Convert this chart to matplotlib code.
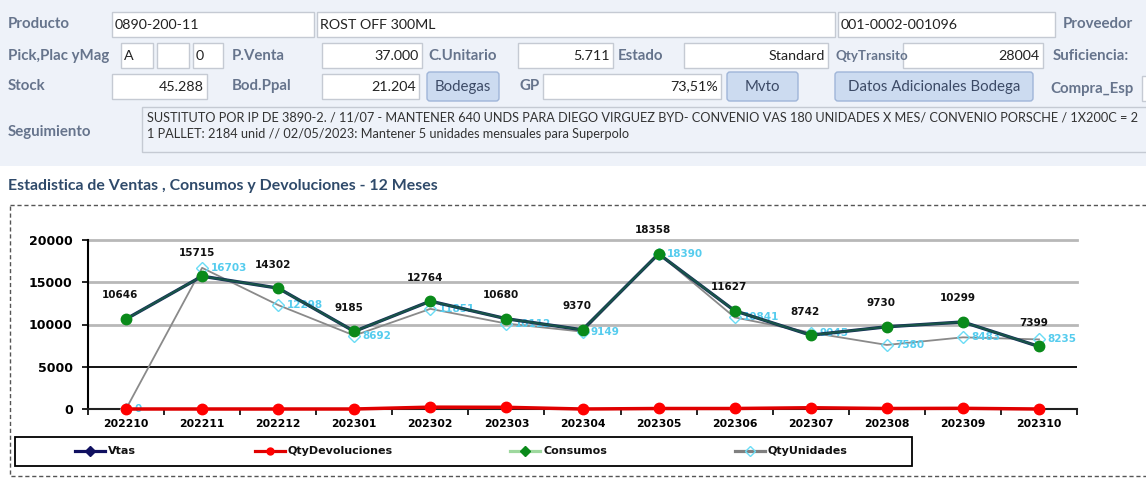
import numpy as np
import matplotlib
matplotlib.use("Agg")
import matplotlib.pyplot as plt
from matplotlib.patches import Rectangle, FancyBboxPatch

# data
meses = ["202210", "202211", "202212", "202301", "202302", "202303", "202304",
         "202305", "202306", "202307", "202308", "202309", "202310"]
vtas = [10646, 15715, 14302, 9185, 12764, 10680, 9370, 18358, 11627, 8742, 9730, 10299, 7399]
consumos = [10646, 15715, 14302, 9185, 12764, 10680, 9370, 18358, 11627, 8742, 9730, 10299, 7399]
devoluciones = [0, 0, 0, 0, 220, 200, 0, 60, 60, 150, 60, 80, 0]
unidades = [0, 16703, 12298, 8692, 11851, 10112, 9149, 18390, 10841, 9045, 7580, 8483, 8235]
yticks = [0, 5000, 10000, 15000, 20000]

W, H = 1146, 479
fig = plt.figure(figsize=(W / 100, H / 100), dpi=100)
fig.patch.set_facecolor("white")

# overlay in pixel coords for the form part
bg = fig.add_axes([0, 0, 1, 1], zorder=0)
bg.set_xlim(0, W)
bg.set_ylim(H, 0)
bg.axis("off")

FORM = "#EEF2F9"
LAB = "#66748C"
bg.add_patch(Rectangle((0, 0), W, 166, facecolor=FORM, edgecolor="none"))

ff = "Lato"
def label(x, y, s, size=10.8):
    bg.text(x, y, s, fontsize=size, color=LAB, family=ff, fontweight="bold",
            va="center", ha="left")

def box(x0, x1, y0, y1, s="", align="left"):
    bg.add_patch(Rectangle((x0, y0), x1 - x0, y1 - y0, facecolor="white",
                           edgecolor="#C5CAD3", lw=1))
    if s:
        if align == "left":
            bg.text(x0 + 3, (y0 + y1) / 2, s, fontsize=10.3, color="#222222",
                    family=ff, va="center", ha="left")
        else:
            bg.text(x1 - 3, (y0 + y1) / 2, s, fontsize=10.3, color="#222222",
                    family=ff, va="center", ha="right")

def button(x0, x1, y0, y1, s):
    bg.add_patch(FancyBboxPatch((x0 + 2, y0 + 2), x1 - x0 - 4, y1 - y0 - 4,
                                boxstyle="round,pad=2,rounding_size=3",
                                facecolor="#CCDBF0", edgecolor="#9FB5D8", lw=1))
    bg.text((x0 + x1) / 2, (y0 + y1) / 2, s, fontsize=10.8, color="#3C4A66",
            family=ff, va="center", ha="center")

# row 1
label(8, 24, "Producto")
box(112, 314, 12, 37, "0890-200-11")
box(317, 835, 12, 37, "ROST OFF 300ML")
box(838, 1055, 12, 37, "001-0002-001096")
label(1063, 24, "Proveedor")
# row 2
label(8, 56, "Pick,Plac yMag")
box(121, 153, 43, 68, "A")
box(157, 189, 43, 68)
box(193, 223, 43, 68, "0")
label(232, 56, "P.Venta")
box(322, 422, 43, 68, "37.000", "right")
label(428, 56, "C.Unitario")
box(518, 613, 43, 68, "5.711", "right")
label(618, 56, "Estado")
box(684, 828, 43, 68, "Standard", "right")
label(835, 56, "QtyTransito", size=9.6)
box(903, 1043, 43, 68, "28004", "right")
label(1053, 56, "Suficiencia:")
# row 3
label(8, 86, "Stock")
box(112, 207, 74, 99, "45.288", "right")
label(232, 86, "Bod.Ppal")
box(322, 419, 74, 99, "21.204", "right")
button(427, 499, 72, 101, "Bodegas")
label(520, 86, "GP")
box(543, 721, 74, 99, "73,51%", "right")
button(727, 798, 72, 101, "Mvto")
button(835, 1033, 72, 101, "Datos Adicionales Bodega")
label(1050, 89, "Compra_Esp")
box(1142, 1150, 76, 101)
# seguimiento
label(8, 132, "Seguimiento")
bg.add_patch(Rectangle((142, 107), 1010, 45, facecolor=FORM, edgecolor="#C5CAD3", lw=1))
bg.text(147, 117, "SUSTITUTO POR IP DE 3890-2. / 11/07 - MANTENER 640 UNDS PARA DIEGO VIRGUEZ BYD- "
        "CONVENIO VAS 180 UNIDADES X MES/ CONVENIO PORSCHE / 1X200C = 2",
        fontsize=9.2, color="#333333", family=ff, va="center", clip_on=True)
bg.text(147, 134, "1 PALLET: 2184 unid // 02/05/2023: Mantener 5 unidades mensuales para Superpolo",
        fontsize=9.2, color="#333333", family=ff, va="center", clip_on=True)

# chart title and dashed frame
bg.text(8, 186, "Estadistica de Ventas , Consumos y Devoluciones - 12 Meses",
        fontsize=11.4, color="#2F4A6A", family=ff, fontweight="bold", va="center")
bg.add_patch(Rectangle((10, 205), 1150, 271, facecolor="none", edgecolor="#555555",
                       lw=1, ls=(0, (3, 2))))

# chart axes
cf = ["Liberation Sans Narrow", "DejaVu Sans"]
x0, x1, ytop, ybot = 88, 1077, 240, 409
ax = fig.add_axes([x0 / W, 1 - ybot / H, (x1 - x0) / W, (ybot - ytop) / H], zorder=1)
ax.set_facecolor("none")
x = np.arange(len(meses))
ax.set_xlim(-0.5, len(meses) - 0.5)
ax.set_ylim(0, 20000)

for v in [10000, 15000, 20000]:
    ax.axhline(v, color="#B8B8B8", lw=2, zorder=1, clip_on=False)
ax.axhline(5000, color="black", lw=1.3, zorder=1)

ax.plot(x, unidades, color="#8A8A8A", lw=1.3, marker="D", ms=6, mfc="none",
        mec="#6ADCF5", mew=1, zorder=3)
ax.plot(x, vtas, color="#14285A", lw=2.4, marker="D", ms=5, mfc="#101060",
        mec="#101060", zorder=4)
ax.plot(x, consumos, color="#1E7A3A", lw=1.6, alpha=0.55, zorder=5)
ax.plot(x, consumos, ls="none", marker="o", ms=7.5, mfc="#0A8A1A", mec="#0A8A1A",
        zorder=6)
ax.plot(x, devoluciones, color="#E00000", lw=2.5, marker="o", ms=7.5, mfc="#FF0000",
        mec="#FF0000", zorder=7, clip_on=False)

for i in range(len(meses)):
    ax.annotate(str(vtas[i]), (x[i], vtas[i]), xytext=(-4, 17), textcoords="offset points",
                ha="center", va="center", fontsize=7.5, color="#111111", family=cf,
                fontweight="bold")
    ax.annotate(str(unidades[i]), (x[i], unidades[i]), xytext=(6, 0),
                textcoords="offset points", ha="left", va="center", fontsize=7.5,
                color="#55CCEE", family=cf, fontweight="bold")

ax.set_xticks(x)
ax.set_xticklabels(meses, family=cf, fontsize=7.8, fontweight="bold")
ax.set_xticks(np.arange(-0.5, len(meses), 1), minor=True)
ax.tick_params(axis="x", which="major", length=0, pad=7)
ax.tick_params(axis="x", which="minor", length=4, direction="out", width=1.2)
ax.set_yticks(yticks)
ax.set_yticklabels([str(v) for v in yticks], family=cf, fontsize=9, fontweight="bold")
ax.tick_params(axis="y", length=4, width=1.2, pad=7)
for s in ["top", "right"]:
    ax.spines[s].set_visible(False)
ax.spines["left"].set_linewidth(1.5)
ax.spines["bottom"].set_linewidth(1.5)
ax.spines["bottom"].set_color("#222222")

# legend box
bg.add_patch(Rectangle((15, 437), 897, 29, facecolor="white", edgecolor="black", lw=1.3,
                       zorder=2))
legend_items = [
    ("Vtas", 75, "#101060", "D", "#101060", "#101060"),
    ("QtyDevoluciones", 255, "#E00000", "o", "#FF0000", "#FF0000"),
    ("Consumos", 510, "#9ED89E", "D", "#0A8A1A", "#0A8A1A"),
    ("QtyUnidades", 735, "#808080", "D", "none", "#6ADCF5"),
]
for name, lx, lc, mk, mfc, mec in legend_items:
    bg.plot([lx, lx + 30], [451, 451], color=lc, lw=2.3, zorder=3)
    bg.plot([lx + 15], [451], marker=mk, ms=5, mfc=mfc, mec=mec, zorder=4)
    bg.text(lx + 33, 451, name, fontsize=8, family=cf, fontweight="bold",
            va="center", ha="left", color="#111111", zorder=4)

fig.savefig("out.png", dpi=100)
